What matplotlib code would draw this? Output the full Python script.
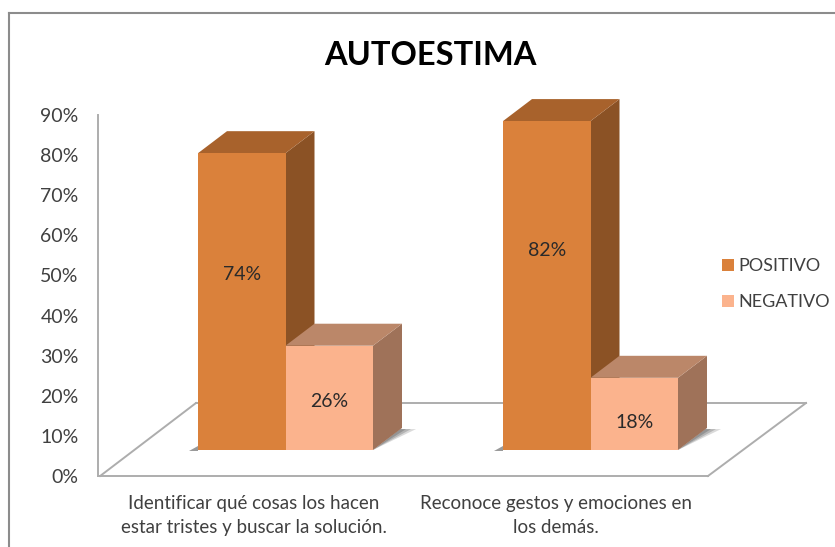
import matplotlib
matplotlib.use('Agg')
import matplotlib.pyplot as plt
from matplotlib.patches import Polygon, Rectangle
from matplotlib.lines import Line2D

title = 'AUTOESTIMA'
categories = ['Identificar qué cosas los hacen\nestar tristes y buscar la solución.',
              'Reconoce gestos y emociones en\nlos demás.']
positivo = [74, 82]
negativo = [26, 18]
y_ticks = [0, 10, 20, 30, 40, 50, 60, 70, 80, 90]

plt.rcParams['font.family'] = ['Lato', 'DejaVu Sans']

W, H = 835, 547
fig = plt.figure(figsize=(W / 100, H / 100), dpi=100)
ax = fig.add_axes([98 / W, 1 - 476 / H, 610 / W, 361 / H])
ax.set_xlim(0, 2)
ax.set_ylim(0, 90)

# pixel sizes turned into data units
ux = 305.0
uy = 361 / 90
base = 26 / uy
dx = 29 / ux
dy = 22 / uy
bar_w = 87.5 / ux
shift = 35 / ux

front = ['#DA813B', '#FBB38D']
top = ['#A8622C', '#BB8769']
side = ['#8B5225', '#9F7259']


def poly(pts, color, z, alpha=1.0):
    ax.add_patch(Polygon(pts, closed=True, fc=color, ec='none', alpha=alpha, clip_on=False, zorder=z))


# floor
gray = '#ADADAD'
floor_dx = 98 / ux
floor_dy = 73 / uy
ax.plot([0.007, floor_dx], [0, floor_dy], color=gray, lw=1.4, clip_on=False, zorder=1)
ax.plot([floor_dx, 2 + floor_dx], [floor_dy, floor_dy], color=gray, lw=1.4, clip_on=False, zorder=1)
ax.plot([2, 2 + floor_dx], [0, floor_dy], color=gray, lw=1.4, clip_on=False, zorder=1)

for i in range(2):
    center = i + 0.5 + shift
    for j, val in enumerate([positivo[i], negativo[i]]):
        x0 = center + (j - 1) * bar_w
        x1 = x0 + bar_w
        y1 = base + val
        z = 3 + j
        # soft shadow on the floor
        for grow, a in [(14, 0.25), (9, 0.35), (4, 0.45)]:
            poly([(x1, base), (x1 + dx + grow / ux, base + dy * 0.95), (x1 + dx - 2 / ux, base + dy * 0.95)],
                 '#6E6E6E', 2, a)
        if j == 0:
            poly([(x0 - 9 / ux, base - 0.2), (x0, base - 0.2), (x0, base + 1.0)], '#9A9A9A', 2)
        poly([(x1, base), (x1 + dx, base + dy), (x1 + dx, y1 + dy), (x1, y1)], side[j], z)
        poly([(x0, y1), (x0 + dx, y1 + dy), (x1 + dx, y1 + dy), (x1, y1)], top[j], z)
        ax.add_patch(Rectangle((x0, base), bar_w, val, fc=front[j], ec='none', clip_on=False, zorder=z + 0.5))
        # labels sit above the middle of the face, more so on tall bars
        lift = 6.8 if j == 0 and val == 74 else 8.7 if j == 0 else -0.9 if val == 26 else -2.1
        ax.text((x0 + x1) / 2, base + val / 2 + lift, '%d%%' % val, ha='center', va='center',
                fontsize=14, color='#2A2A2A', zorder=6)

ax.set_yticks(y_ticks)
ax.set_yticklabels(['%d%%' % v for v in y_ticks], fontsize=14, color='#404040')
ax.set_xticks([0.51, 1.5])
ax.set_xticklabels(categories, fontsize=13.5, color='#404040', linespacing=1.48)
ax.tick_params(axis='both', length=0)
ax.tick_params(axis='y', pad=14)
ax.tick_params(axis='x', pad=14)
for s in ['top', 'right']:
    ax.spines[s].set_visible(False)
for s in ['left', 'bottom']:
    ax.spines[s].set_color(gray)
    ax.spines[s].set_linewidth(1.4)

fig.text(430 / W, 1 - 55 / H, title, ha='center', va='center', fontsize=23.5, fontweight='bold', color='black')

# legend
handles = [Rectangle((0, 0), 1, 1, fc=front[0], ec='none'), Rectangle((0, 0), 1, 1, fc=front[1], ec='none')]
fig.legend(handles, ['POSITIVO', 'NEGATIVO'], loc='center left', bbox_to_anchor=(722 / W, 1 - 284 / H),
           frameon=False, fontsize=13, labelcolor='#404040', handlelength=0.66, handleheight=0.66,
           handletextpad=0.26, labelspacing=1.1, borderpad=0, borderaxespad=0)

# chart frame
frame = '#8C8C8C'
fig.add_artist(Line2D([9 / W, 9 / W], [0, 1 - 13 / H], color=frame, lw=1.5))
fig.add_artist(Line2D([9 / W, 1], [1 - 13 / H, 1 - 13 / H], color=frame, lw=1.5))

fig.savefig('out.png', dpi=100)
